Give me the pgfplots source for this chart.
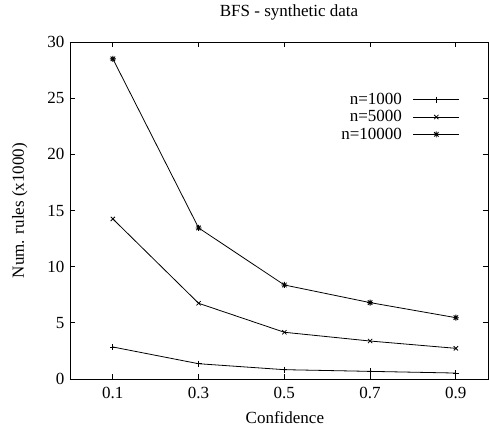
\documentclass[border=0pt]{standalone}
\usepackage{pgfplots}
\pgfplotsset{compat=1.18}
\usepackage{fontspec}
\setmainfont{Liberation Serif}
\pgfdeclareplotmark{gpstar}{%
  \pgfpathmoveto{\pgfqpoint{-\pgfplotmarksize}{0pt}}%
  \pgfpathlineto{\pgfqpoint{\pgfplotmarksize}{0pt}}%
  \pgfpathmoveto{\pgfqpoint{0pt}{-\pgfplotmarksize}}%
  \pgfpathlineto{\pgfqpoint{0pt}{\pgfplotmarksize}}%
  \pgfpathmoveto{\pgfqpoint{-0.75\pgfplotmarksize}{-0.75\pgfplotmarksize}}%
  \pgfpathlineto{\pgfqpoint{0.75\pgfplotmarksize}{0.75\pgfplotmarksize}}%
  \pgfpathmoveto{\pgfqpoint{-0.75\pgfplotmarksize}{0.75\pgfplotmarksize}}%
  \pgfpathlineto{\pgfqpoint{0.75\pgfplotmarksize}{-0.75\pgfplotmarksize}}%
  \pgfusepathqstroke}
\begin{document}
\begin{tikzpicture}
\useasboundingbox (-70bp,-52bp) rectangle (419bp,379bp);
\begin{axis}[
  at={(0,0)}, anchor=south west,
  scale only axis, width=418bp, height=337bp,
  xmin=0, xmax=0.975, ymin=0, ymax=30,
  xtick={0.1,0.3,0.5,0.7,0.9},
  xticklabels={0.1,0.3,0.5,0.7,0.9},
  ytick={0,5,10,15,20,25,30},
  tick pos=both, tick align=inside,
  major tick length=5bp,
  axis line style={line width=0.8bp},
  every tick/.style={line width=0.8bp, black},
  font=\fontsize{17bp}{20bp}\selectfont,
  /pgf/number format/assume math mode=true,
  xticklabel style={yshift=-5bp},
  yticklabel style={xshift=-2bp},
  title={BFS - synthetic data},
  title style={at={(0.524,1)}, anchor=center, yshift=24bp},
  xlabel={Confidence},
  xlabel style={at={(axis description cs:0.514,0)}, anchor=center, yshift=-39bp},
  ylabel={Num. rules (x1000)},
  ylabel style={at={(axis description cs:-0.12,0.5)}, anchor=center, rotate=0},
  legend style={draw=none, fill=none, at={(0.94,0.86)}, anchor=north east,
    row sep=0.5bp, column sep=9bp, font=\fontsize{17bp}{20bp}\selectfont},
  legend cell align=right,
  legend plot pos=right,
  legend image code/.code={\draw[mark repeat=2,mark phase=2] plot coordinates {(0bp,0bp) (23bp,0bp) (46bp,0bp)};},
  every axis plot/.append style={black, line width=0.8bp, mark size=3bp, mark options={solid, line width=0.8bp}},
]
\addplot[mark=+] coordinates {(0.1,2.85) (0.3,1.36) (0.5,0.83) (0.7,0.68) (0.9,0.53)};
\addlegendentry{n=1000}
\addplot[mark=x] coordinates {(0.1,14.25) (0.3,6.74) (0.5,4.16) (0.7,3.38) (0.9,2.73)};
\addlegendentry{n=5000}
\addplot[mark=gpstar] coordinates {(0.1,28.5) (0.3,13.45) (0.5,8.37) (0.7,6.8) (0.9,5.46)};
\addlegendentry{n=10000}
\end{axis}
\end{tikzpicture}
\end{document}
